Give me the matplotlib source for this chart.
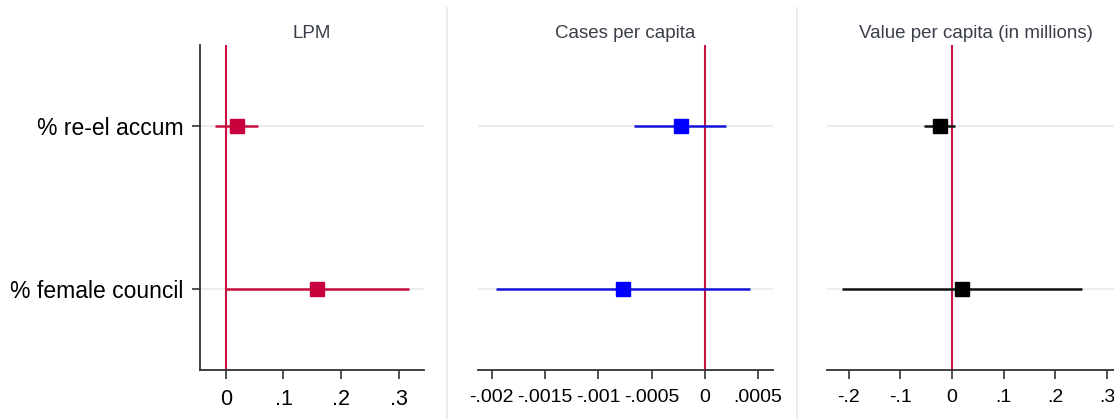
import matplotlib.pyplot as plt
from matplotlib.lines import Line2D

plt.rcParams['font.family'] = ['Liberation Sans', 'DejaVu Sans']

# Data
rows = ["% re-el accum", "% female council"]

lpm_coef = [0.0186, 0.158]
lpm_lo = [-0.019, -0.002]
lpm_hi = [0.056, 0.318]

cases_coef = [-0.000228, -0.000772]
cases_lo = [-0.000666, -0.00196]
cases_hi = [0.000203, 0.000422]

value_coef = [-0.023, 0.019]
value_lo = [-0.054, -0.213]
value_hi = [0.006, 0.251]

lpm_ticks = [0, 0.1, 0.2, 0.3]
lpm_labels = ["0", ".1", ".2", ".3"]
cases_ticks = [-0.002, -0.0015, -0.001, -0.0005, 0, 0.0005]
cases_labels = ["-.002", "-.0015", "-.001", "-.0005", "0", ".0005"]
value_ticks = [-0.2, -0.1, 0, 0.1, 0.2, 0.3]
value_labels = ["-.2", "-.1", "0", ".1", ".2", ".3"]

W, H = 1114, 419
fig = plt.figure(figsize=(W / 100, H / 100), dpi=100)
fig.patch.set_facecolor("white")


def px_axes(x0, x1, y0, y1):
    return fig.add_axes([x0 / W, 1 - y1 / H, (x1 - x0) / W, (y1 - y0) / H])


zero_col = "#c8123f"
panels = [
    dict(box=(200, 424), title="LPM", coef=lpm_coef, lo=lpm_lo, hi=lpm_hi,
         mcol="#c8003c", lcol="#c8103e", xlim=(-0.045, 0.344),
         ticks=lpm_ticks, labels=lpm_labels, fs=15.5, yaxis=True),
    dict(box=(478, 773), title="Cases per capita", coef=cases_coef, lo=cases_lo, hi=cases_hi,
         mcol="#0000ff", lcol="#1515d8", xlim=(-0.00213, 0.00064),
         ticks=cases_ticks, labels=cases_labels, fs=14, yaxis=False),
    dict(box=(827, 1125), title="Value per capita (in millions)", coef=value_coef, lo=value_lo, hi=value_hi,
         mcol="#000000", lcol="#111111", xlim=(-0.242, 0.335),
         ticks=value_ticks, labels=value_labels, fs=14, yaxis=False),
]

ypos = [1, 2]
for p in panels:
    ax = px_axes(p["box"][0], p["box"][1], 45, 370)
    ax.set_xlim(*p["xlim"])
    ax.set_ylim(2.5, 0.5)
    for y in ypos:
        ax.axhline(y, color="#ebebeb", lw=1.3, zorder=0)
    ax.axvline(0, color=zero_col, lw=1.5, zorder=2)
    ax.hlines(ypos, p["lo"], p["hi"], color=p["lcol"], lw=1.8, zorder=3)
    ax.plot(p["coef"], ypos, "s", color=p["mcol"], markersize=9.5, zorder=4)

    for s in ["top", "right"]:
        ax.spines[s].set_visible(False)
    ax.spines["bottom"].set_color("#333333")
    ax.spines["bottom"].set_linewidth(1.3)
    ax.set_xticks(p["ticks"])
    ax.set_xticklabels(p["labels"])
    ax.tick_params(axis="x", length=6.5, width=1.2, color="#333333",
                   labelsize=p["fs"], pad=7)
    if p["yaxis"]:
        ax.spines["left"].set_color("#333333")
        ax.spines["left"].set_linewidth(1.3)
        ax.set_yticks(ypos)
        ax.set_yticklabels(rows)
        ax.tick_params(axis="y", length=6, width=1.2, color="#333333",
                       labelsize=16.5, pad=6)
    else:
        ax.spines["left"].set_visible(False)
        ax.set_yticks([])
    ax.set_title(p["title"], fontsize=13.5, color="#3a3f4a", pad=5)

# light panel separators
for x in [447, 797]:
    fig.add_artist(Line2D([x / W, x / W], [0, 1 - 8 / H], transform=fig.transFigure,
                          color="#ebebeb", lw=1.5))

fig.savefig("out.png", dpi=100)
